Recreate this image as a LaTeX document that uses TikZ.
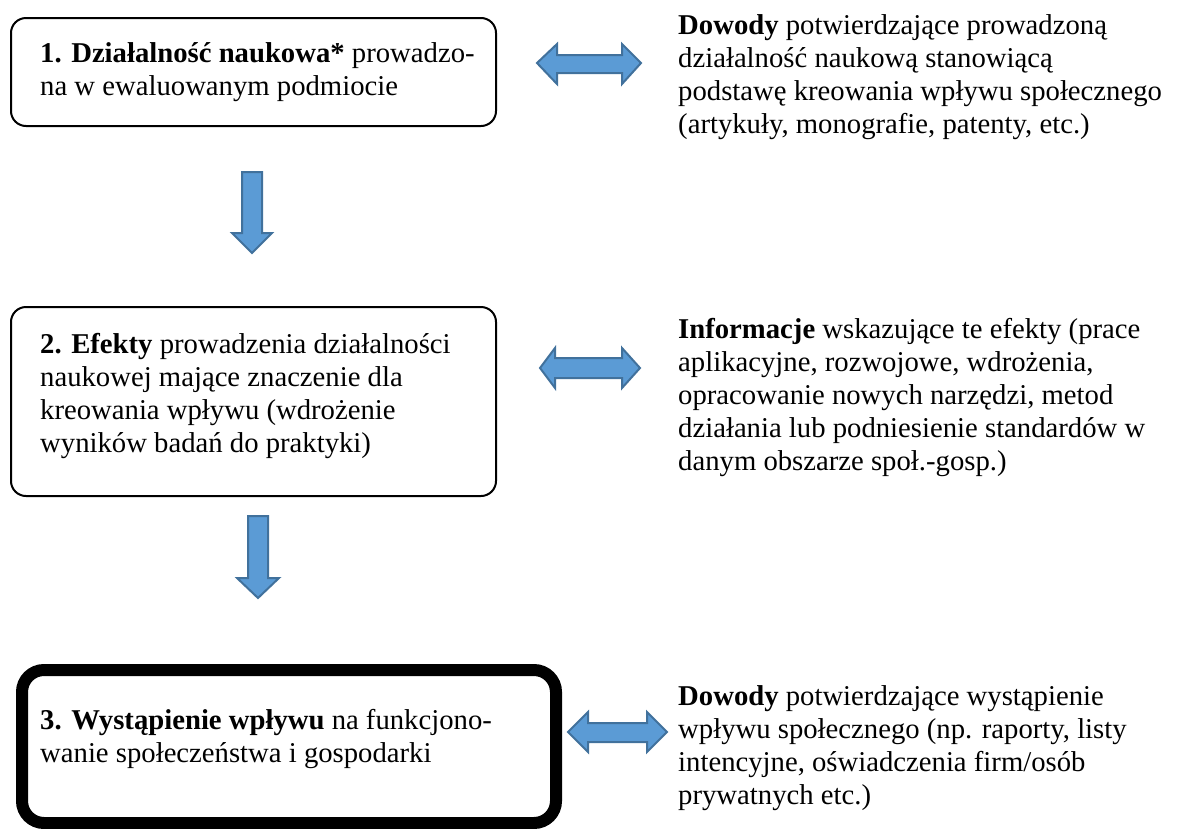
\documentclass[tikz,border=0pt]{standalone}
\usepackage{fontspec}
\setmainfont{Liberation Serif}
\definecolor{arrfill}{HTML}{5B9BD5}
\definecolor{arrdraw}{HTML}{41719C}
\tikzset{
  box/.style={draw=black, line width=2pt, rounded corners=15pt},
  bigbox/.style={draw=black, line width=12pt, rounded corners=22pt},
  blockarrow/.style={fill=arrfill, draw=arrdraw, line width=2pt, line join=miter},
  txt/.style={anchor=north west, inner sep=0pt, align=left, font=\fontsize{28.7}{33}\selectfont},
}
\begin{document}
\begin{tikzpicture}[x=1pt,y=-1pt]
\useasboundingbox[fill=white] (0,0) rectangle (1177,828);
% boxes
\draw[box] (11,18) rectangle (496,126);
\draw[box] (11,307) rectangle (496,496);
\draw[bigbox] (22,670) rectangle (556,823);
% box texts
\node[txt] (t1) at (40,62-23.1) {\strut\textbf{1. Działalność naukowa*} prowadzo-\\na w ewaluowanym podmiocie};
\node[txt] (t2) at (40,353-23.1) {\strut\textbf{2. Efekty} prowadzenia działalności\\naukowej mające znaczenie dla\\kreowania wpływu (wdrożenie\\wyników badań do praktyki)};
\node[txt] (t3) at (40,729-23.1) {\strut\textbf{3. Wystąpienie wpływu} na funkcjono-\\wanie społeczeństwa i gospodarki};
% right texts
\node[txt] (r1) at (678,34-23.1) {\strut\textbf{Dowody} potwierdzające prowadzoną\\działalność naukową stanowiącą\\podstawę kreowania wpływu społecznego\\(artykuły, monografie, patenty, etc.)};
\node[txt] (r2) at (678,338-23.1) {\strut\textbf{Informacje} wskazujące te efekty (prace\\aplikacyjne, rozwojowe, wdrożenia,\\opracowanie nowych narzędzi, metod\\działania lub podniesienie standardów w\\danym obszarze społ.-gosp.)};
\node[txt] (r3) at (678,705-23.1) {\strut\textbf{Dowody} potwierdzające wystąpienie\\wpływu społecznego (np. raporty, listy\\intencyjne, oświadczenia firm/osób\\prywatnych etc.)};
% down arrows
\draw[blockarrow] (242,172) -- (262,172) -- (262,233) -- (272,233) -- (252,253) -- (232,233) -- (242,233) -- cycle;
\draw[blockarrow] (248,516) -- (268,516) -- (268,578) -- (279,578) -- (258,598) -- (237,578) -- (248,578) -- cycle;
% double arrows
\draw[blockarrow] (537,63) -- (557,44) -- (557,55) -- (622,55) -- (622,44) -- (641,63) -- (622,84) -- (622,73) -- (557,73) -- (557,84) -- cycle;
\draw[blockarrow] (540,368) -- (555,348) -- (555,358) -- (622,358) -- (622,348) -- (640,368) -- (622,388) -- (622,378) -- (555,378) -- (555,388) -- cycle;
\draw[blockarrow] (568,732) -- (588,712) -- (588,723) -- (647,723) -- (647,712) -- (667,732) -- (647,752) -- (647,742) -- (588,742) -- (588,752) -- cycle;
\end{tikzpicture}
\end{document}
